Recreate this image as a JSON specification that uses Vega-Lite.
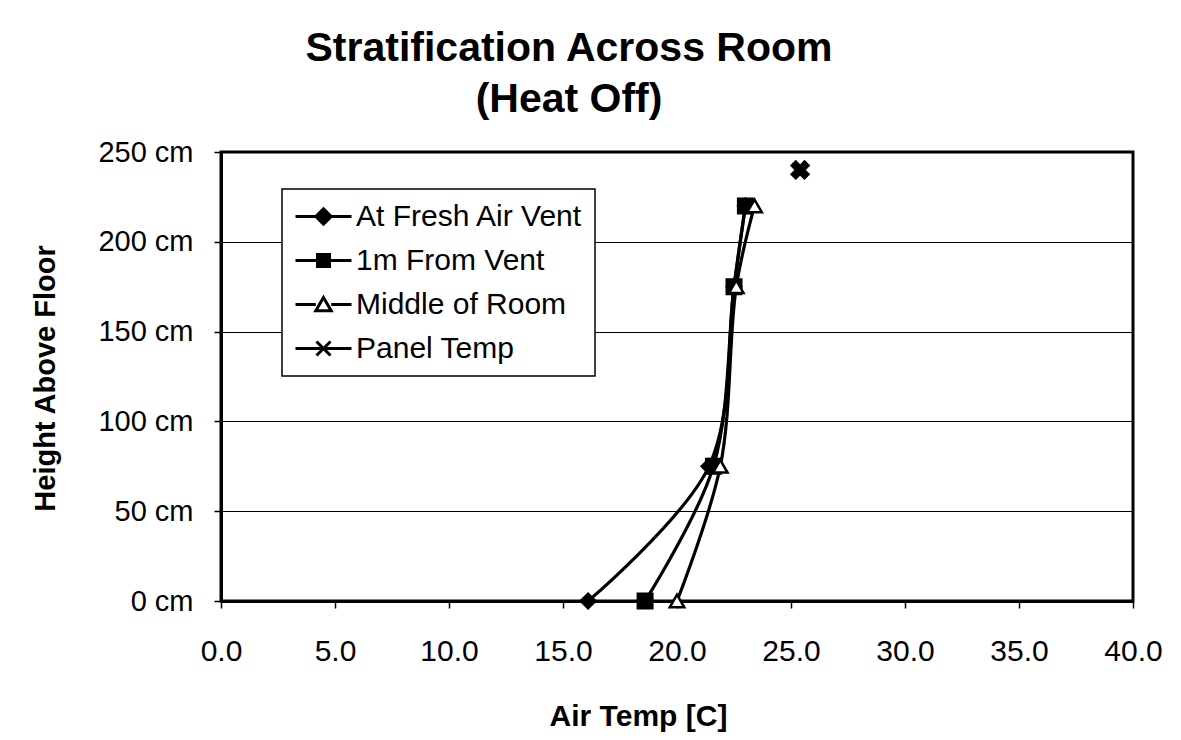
{
  "$schema": "https://vega.github.io/schema/vega-lite/v6.json",
  "autosize": "none",
  "width": 912,
  "height": 449,
  "padding": {"left": 221, "top": 152, "right": 48, "bottom": 139},
  "background": "white",
  "config": {
    "font": "Liberation Sans",
    "view": {"stroke": "black", "strokeWidth": 3},
    "axis": {
      "domainColor": "black", "domainWidth": 3,
      "tickColor": "black", "tickWidth": 1.5, "tickSize": 7,
      "labelColor": "black", "titleColor": "black",
      "labelFont": "Liberation Sans", "titleFont": "Liberation Sans"
    }
  },
  "title": {
    "text": ["Stratification Across Room", "(Heat Off)"],
    "fontSize": 41, "fontWeight": "bold", "font": "Liberation Sans",
    "lineHeight": 51, "anchor": "middle", "frame": "group", "dx": -108, "offset": 17, "color": "black"
  },
  "data": {
    "values": [
      {"s": "At Fresh Air Vent", "t": 16.1, "h": 0},
      {"s": "At Fresh Air Vent", "t": 21.4, "h": 75},
      {"s": "At Fresh Air Vent", "t": 22.5, "h": 175},
      {"s": "At Fresh Air Vent", "t": 23.0, "h": 220},
      {"s": "1m From Vent", "t": 18.6, "h": 0},
      {"s": "1m From Vent", "t": 21.6, "h": 75},
      {"s": "1m From Vent", "t": 22.5, "h": 175},
      {"s": "1m From Vent", "t": 23.0, "h": 220},
      {"s": "Middle of Room", "t": 20.0, "h": 0},
      {"s": "Middle of Room", "t": 21.9, "h": 75},
      {"s": "Middle of Room", "t": 22.6, "h": 175},
      {"s": "Middle of Room", "t": 23.4, "h": 220},
      {"s": "Panel Temp", "t": 25.4, "h": 240}
    ]
  },
  "encoding": {
    "x": {
      "field": "t", "type": "quantitative",
      "scale": {"domain": [0, 40], "nice": false, "zero": false},
      "axis": {
        "values": [0, 5, 10, 15, 20, 25, 30, 35, 40], "format": ".1f", "labelFlush": false,
        "grid": false, "labelFontSize": 30, "labelPadding": 28,
        "title": "Air Temp [C]", "titleFontSize": 30, "titleFontWeight": "bold",
        "titleX": 417, "titleY": 124, "titleBaseline": "alphabetic", "titleAnchor": "middle", "titleAlign": "center"
      }
    },
    "y": {
      "field": "h", "type": "quantitative",
      "scale": {"domain": [0, 250], "nice": false},
      "axis": {
        "values": [0, 50, 100, 150, 200, 250], "labelExpr": "datum.value + ' cm'",
        "grid": true, "gridColor": "black", "gridWidth": 1, "gridOpacity": 1,
        "labelFontSize": 29, "labelPadding": 21,
        "title": "Height Above Floor", "titleFontSize": 29, "titleFontWeight": "bold",
        "titleAngle": -90, "titleX": -167, "titleY": 226, "titleBaseline": "alphabetic", "titleAlign": "center"
      }
    }
  },
  "layer": [
    {
      "transform": [{"filter": "datum.s !== 'Panel Temp'"}],
      "mark": {"type": "line", "interpolate": "catmull-rom", "color": "black", "strokeWidth": 3.2},
      "encoding": {"detail": {"field": "s"}, "order": {"field": "h", "type": "quantitative"}}
    },
    {
      "transform": [{"filter": "datum.s !== 'Panel Temp'"}],
      "mark": {"type": "point", "filled": true, "stroke": "black", "strokeWidth": 2.5, "size": 210, "opacity": 1},
      "encoding": {
        "shape": {"field": "s", "type": "nominal",
          "scale": {"domain": ["At Fresh Air Vent", "1m From Vent", "Middle of Room"], "range": ["diamond", "square", "triangle-up"]},
          "legend": null},
        "fill": {"field": "s", "type": "nominal",
          "scale": {"domain": ["At Fresh Air Vent", "1m From Vent", "Middle of Room"], "range": ["black", "black", "white"]},
          "legend": null}
      }
    },
    {
      "transform": [{"filter": "datum.s === 'Panel Temp'"}],
      "mark": {"type": "point", "shape": "cross", "angle": 45, "filled": true, "color": "black", "size": 420, "opacity": 1},
      "encoding": {}
    },
    {
      "mark": {"type": "point", "filled": true, "stroke": "black", "strokeWidth": 3, "opacity": 0},
      "encoding": {
        "shape": {"field": "s", "type": "nominal",
          "scale": {"domain": ["At Fresh Air Vent", "1m From Vent", "Middle of Room", "Panel Temp"],
            "range": [
              "M-1,0H3M1,-0.55L1.55,0L1,0.55L0.45,0Z",
              "M-1,0H3M0.57,-0.43H1.43V0.43H0.57Z",
              "M-1,0H0.45M1.55,0H3M1,-0.5L1.55,0.45H0.45Z",
              "M-1,0H3M0.5,-0.5L1.5,0.5M0.5,0.5L1.5,-0.5"
            ]},
          "legend": {
            "title": null, "orient": "none", "legendX": 61, "legendY": 37,
            "strokeColor": "black", "fillColor": "white", "padding": 12,
            "labelFontSize": 30, "labelColor": "black", "labelFont": "Liberation Sans", "labelOffset": 31,
            "symbolSize": 784, "symbolStrokeWidth": 3, "symbolStrokeColor": "black", "symbolOpacity": 1,
            "rowPadding": 13, "labelLimit": 400,
            "encode": {"legend": {"update": {"strokeWidth": {"value": 1.5}}}}
          }},
        "fill": {"field": "s", "type": "nominal",
          "scale": {"domain": ["At Fresh Air Vent", "1m From Vent", "Middle of Room", "Panel Temp"], "range": ["black", "black", "white", "black"]},
          "legend": {
            "title": null, "orient": "none", "legendX": 61, "legendY": 37,
            "strokeColor": "black", "fillColor": "white", "padding": 12,
            "labelFontSize": 30, "labelColor": "black", "labelFont": "Liberation Sans", "labelOffset": 31,
            "symbolSize": 784, "symbolStrokeWidth": 3, "symbolStrokeColor": "black", "symbolOpacity": 1,
            "rowPadding": 13, "labelLimit": 400,
            "encode": {"legend": {"update": {"strokeWidth": {"value": 1.5}}}}
          }}
      }
    }
  ],
  "resolve": {"scale": {"shape": "independent", "fill": "independent"}, "legend": {"shape": "independent", "fill": "independent"}}
}
